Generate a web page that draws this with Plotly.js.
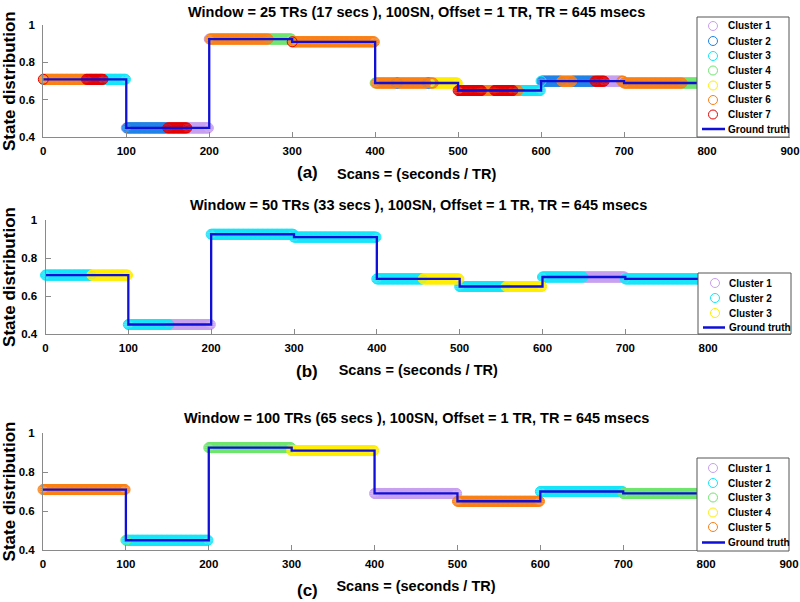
<!DOCTYPE html>
<html><head><meta charset="utf-8">
<script src="https://cdn.plot.ly/plotly-3.0.1.min.js"></script>
<style>html,body{margin:0;padding:0;background:#fff}#chart{width:800px;height:602px}</style>
</head><body><div id="chart"></div>
<script>
// ---------- data ----------
const gtStarts = [0, 100, 200, 300, 400, 500, 600, 700, 800];
const gtLevels = [0.71, 0.45, 0.925, 0.91, 0.69, 0.65, 0.70, 0.69, 0.69];

const xTickVals = [0, 100, 200, 300, 400, 500, 600, 700, 800, 900];
const yTickVals = [0.4, 0.6, 0.8, 1];
const yTickText = ['0.4', '0.6', '0.8', '1'];

const panelTitles = [
  'Window = 25 TRs (17 secs ), 100SN, Offset = 1 TR, TR = 645 msecs',
  'Window = 50 TRs (33 secs ), 100SN, Offset = 1 TR, TR = 645 msecs',
  'Window = 100 TRs (65 secs ), 100SN, Offset = 1 TR, TR = 645 msecs'
];
const panelTags = ['(a)', '(b)', '(c)'];
const xTitle = 'Scans = (seconds / TR)';
const yTitle = 'State distribution';

// panel (a): 7 clusters, run-length segments of scans
const clusterNamesA = ['Cluster 1','Cluster 2','Cluster 3','Cluster 4','Cluster 5','Cluster 6','Cluster 7'];
const segStartA   = [0, 1, 52, 73, 100,101,150,174, 200,201,272, 300,301, 400,401,425,429,462,467,471, 500,529,544,567,573, 600,601,625,638,665,677,697,771];
const segEndA     = [0,51, 72, 99, 100,149,173,199, 200,271,299, 300,399, 400,424,428,461,466,470,499, 528,543,566,572,599, 600,624,637,664,676,696,770,799];
const segClusterA = [7, 6,  7,  3,   1,  2,  7,  1,   1,  6,  4,   7,  6,   4,  6,  2,  6,  2,  6,  5,   7,  6,  7,  6,  3,   3,  2,  6,  2,  7,  1,  6,  4];

// panel (b): 3 clusters
const clusterNamesB = ['Cluster 1','Cluster 2','Cluster 3'];
const segStartB   = [0, 56, 100,150, 200, 300, 400,456, 500,556, 600,650,700];
const segEndB     = [55,99, 149,199, 299, 399, 455,499, 555,599, 649,699,799];
const segClusterB = [2, 3,  2,  1,   2,   2,   2,  3,   2,  3,   2,  1,  2];

// panel (c): 5 clusters
const clusterNamesC = ['Cluster 1','Cluster 2','Cluster 3','Cluster 4','Cluster 5'];
const segStartC   = [0, 100,101, 200, 300, 400, 500, 600, 700];
const segEndC     = [99,100,199, 299, 399, 499, 599, 699, 799];
const segClusterC = [5, 3,  2,   3,   4,   1,   5,   2,   3];

// ---------- styles ----------
const COL = {
  lav: 'rgb(200,160,240)', blue: 'rgb(30,130,230)', cyan: 'rgb(20,230,250)',
  green: 'rgb(110,230,110)', yellow: 'rgb(255,238,0)', orange: 'rgb(250,128,20)', red: 'rgb(228,0,0)'
};
const gtColor = 'rgb(15,15,215)';
const FONT = 'Liberation Sans, Arial, Helvetica, sans-serif';
const W = 800, H = 602;
const px = p => p / W;
const py = p => 1 - p / H;

const panels = [
  { names: clusterNamesA, s: segStartA, e: segEndA, c: segClusterA,
    colors: [COL.lav, COL.blue, COL.cyan, COL.green, COL.yellow, COL.orange, COL.red],
    xdom: [43.3, 790], ydom: [25, 137.3], titleY: 12, tagY: 172,
    leg: { box: [697, 789, 17, 137], rows: [26, 41, 56, 70.5, 85.5, 100, 114.5, 129], cx: 713, tx: 726, lx: [702, 725] } },
  { names: clusterNamesB, s: segStartB, e: segEndB, c: segClusterB,
    colors: [COL.lav, COL.cyan, COL.yellow],
    xdom: [45.5, 791], ydom: [220, 334], titleY: 205, tagY: 371,
    leg: { box: [698, 791, 273, 334], rows: [283, 298, 313, 327.5], cx: 715, tx: 727, lx: [703, 725] } },
  { names: clusterNamesC, s: segStartC, e: segEndC, c: segClusterC,
    colors: [COL.lav, COL.cyan, COL.green, COL.yellow, COL.orange],
    xdom: [43, 789], ydom: [433, 550], titleY: 418, tagY: 590,
    leg: { box: [697, 789, 458, 551], rows: [468, 483, 497.5, 512.5, 527, 542.5], cx: 713, tx: 726, lx: [702, 725] } }
];

function gtAt(x) {
  let k = 0;
  for (let i = 0; i < gtStarts.length; i++) if (x >= gtStarts[i]) k = i;
  return gtLevels[k];
}

const traces = [];
const layout = {
  width: W, height: H, margin: { l: 0, r: 0, t: 0, b: 0 },
  paper_bgcolor: '#fff', plot_bgcolor: '#fff', showlegend: false,
  font: { family: FONT, color: '#000' },
  shapes: [], annotations: []
};

panels.forEach((P, pi) => {
  const sfx = pi === 0 ? '' : String(pi + 1);
  const xa = 'x' + sfx, ya = 'y' + sfx;
  // cluster marker traces
  P.names.forEach((nm, ci) => {
    const xs = [], ys = [];
    for (let j = 0; j < P.s.length; j++) {
      if (P.c[j] !== ci + 1) continue;
      for (let x = P.s[j]; x <= P.e[j]; x++) { xs.push(x); ys.push(gtAt(x)); }
    }
    traces.push({ type: 'scatter', mode: 'markers', name: nm, x: xs, y: ys, xaxis: xa, yaxis: ya,
      cliponaxis: false,
      marker: { symbol: 'circle-open', size: 10, color: P.colors[ci], line: { width: 1, color: P.colors[ci] } } });
  });
  // ground truth
  traces.push({ type: 'scatter', mode: 'lines', name: 'Ground truth', x: gtStarts, y: gtLevels,
    xaxis: xa, yaxis: ya, line: { shape: 'hv', color: gtColor, width: 2.3 } });

  const axisBase = {
    showgrid: false, zeroline: false, showline: true, linecolor: '#8a8a8a', linewidth: 1,
    ticks: 'inside', ticklen: 5, tickcolor: '#8a8a8a', fixedrange: true,
    tickfont: { family: FONT, size: 11.5, color: '#000', weight: 700 }
  };
  layout['xaxis' + sfx] = Object.assign({}, axisBase, {
    domain: [px(P.xdom[0]), px(P.xdom[1])], anchor: ya, range: [0, 900],
    tickmode: 'array', tickvals: xTickVals, ticklabelstandoff: 3,
    title: { text: xTitle, font: { family: FONT, size: 14.5, color: '#000', weight: 700 }, standoff: 12 }
  });
  layout['yaxis' + sfx] = Object.assign({}, axisBase, {
    domain: [py(P.ydom[1]), py(P.ydom[0])], anchor: xa, range: [0.4, 1],
    tickmode: 'array', tickvals: yTickVals, ticktext: yTickText, ticklabelstandoff: 5,
    title: { text: yTitle, font: { family: FONT, size: 17, color: '#000', weight: 700 }, standoff: 5 }
  });

  // panel title & tag
  layout.annotations.push({ xref: 'paper', yref: 'paper', x: px((P.xdom[0] + P.xdom[1]) / 2), y: py(P.titleY),
    xanchor: 'center', yanchor: 'middle', showarrow: false, text: panelTitles[pi],
    font: { family: FONT, size: 14.5, color: '#000', weight: 700 } });
  layout.annotations.push({ xref: 'paper', yref: 'paper', x: px(307), y: py(P.tagY),
    xanchor: 'center', yanchor: 'middle', showarrow: false, text: panelTags[pi],
    font: { family: FONT, size: 17, color: '#000', weight: 700 } });

  // custom legend
  const L = P.leg;
  layout.shapes.push({ type: 'rect', xref: 'paper', yref: 'paper', layer: 'above',
    x0: px(L.box[0]), x1: px(L.box[1]), y0: py(L.box[3]), y1: py(L.box[2]),
    fillcolor: '#fff', line: { color: '#555', width: 1 } });
  P.names.forEach((nm, ci) => {
    const ry = L.rows[ci];
    layout.shapes.push({ type: 'circle', xref: 'paper', yref: 'paper', layer: 'above',
      xsizemode: 'pixel', ysizemode: 'pixel', xanchor: px(L.cx), yanchor: py(ry),
      x0: -4.5, x1: 4.5, y0: -4.5, y1: 4.5, line: { color: P.colors[ci], width: 1 } });
    layout.annotations.push({ xref: 'paper', yref: 'paper', x: px(L.tx), y: py(ry), xanchor: 'left', yanchor: 'middle',
      showarrow: false, text: nm, font: { family: FONT, size: 10, color: '#000', weight: 700 } });
  });
  const gy = L.rows[L.rows.length - 1];
  layout.shapes.push({ type: 'line', xref: 'paper', yref: 'paper', layer: 'above',
    x0: px(L.lx[0]), x1: px(L.lx[1]), y0: py(gy), y1: py(gy), line: { color: gtColor, width: 2.5 } });
  layout.annotations.push({ xref: 'paper', yref: 'paper', x: px(L.tx), y: py(gy), xanchor: 'left', yanchor: 'middle',
    showarrow: false, text: 'Ground truth', font: { family: FONT, size: 10, color: '#000', weight: 700 } });
});

Plotly.newPlot('chart', traces, layout, { staticPlot: true, displayModeBar: false });
</script></body></html>
